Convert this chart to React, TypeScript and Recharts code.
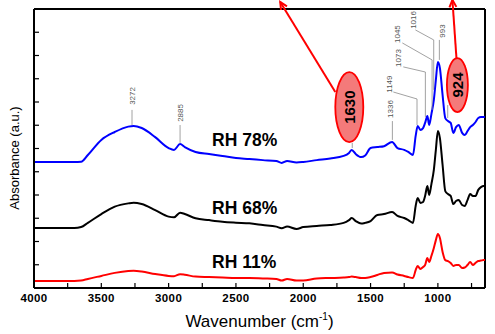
import { LineChart, Line, XAxis, YAxis, ReferenceLine, ReferenceDot } from 'recharts';

// wavenumber grid (cm-1), shared by the three spectra
const wavenumbers = [
  4000, 3700, 3650, 3600, 3500, 3400, 3300, 3260, 3200, 3100, 3000, 2960, 2915, 2880, 2800, 2700, 2600,
  2500, 2400, 2300, 2200, 2160, 2120, 2050, 2000, 1900, 1800, 1700, 1660, 1640, 1610, 1570, 1540, 1500,
  1450, 1400, 1340, 1300, 1250, 1220, 1185, 1165, 1150, 1130, 1110, 1095, 1078, 1065, 1048, 1030, 1015,
  1000, 985, 965, 945, 925, 905, 885, 865, 845, 820, 800, 780, 760, 740, 720, 700, 680, 660, 650,
];

const rh78 = [
  5.42, 5.42, 5.43, 5.72, 6.37, 6.71, 6.94, 6.97, 6.88, 6.49, 6.02, 5.94, 6.19, 6.06, 5.85, 5.76, 5.68,
  5.59, 5.55, 5.5, 5.46, 5.38, 5.46, 5.4, 5.42, 5.5, 5.57, 5.68, 5.81, 5.94, 5.76, 5.63, 5.7, 6.02,
  6.06, 6.1, 6.28, 6.02, 5.94, 5.85, 5.72, 6.54, 6.97, 6.8, 6.88, 7.1, 7.4, 7.01, 7.48, 8.09, 8.95,
  9.72, 9.46, 8.3, 7.31, 7.18, 7.1, 6.67, 6.92, 7.01, 6.67, 6.58, 6.75, 6.92, 7.01, 7.14, 7.31, 7.35, 7.35, 7.37,
];

const rh68 = [
  2.58, 2.58, 2.62, 2.8, 3.18, 3.5, 3.64, 3.67, 3.61, 3.35, 3.07, 3.04, 3.24, 3.18, 3.0, 2.92, 2.85,
  2.81, 2.78, 2.71, 2.64, 2.57, 2.64, 2.54, 2.62, 2.67, 2.71, 2.8, 2.92, 3.01, 2.88, 2.77, 2.8, 2.88,
  3.14, 3.18, 3.27, 3.1, 3.01, 2.92, 2.8, 3.53, 3.87, 3.66, 3.7, 3.96, 4.39, 4.0, 4.47, 5.08, 5.94,
  6.75, 6.45, 5.29, 4.17, 4.04, 3.96, 3.61, 3.74, 3.78, 3.57, 3.53, 3.78, 4.04, 3.96, 3.96, 4.22, 4.34, 4.39, 4.39,
];

const rh11 = [
  0.3, 0.3, 0.32, 0.39, 0.52, 0.65, 0.73, 0.74, 0.71, 0.6, 0.52, 0.51, 0.59, 0.57, 0.49, 0.47, 0.45,
  0.43, 0.43, 0.41, 0.39, 0.32, 0.39, 0.32, 0.32, 0.41, 0.43, 0.45, 0.47, 0.49, 0.47, 0.43, 0.43, 0.47,
  0.56, 0.65, 0.67, 0.58, 0.52, 0.47, 0.43, 0.77, 0.95, 0.82, 0.9, 0.99, 1.29, 1.12, 1.38, 1.72, 2.06,
  2.32, 2.15, 1.55, 1.2, 1.16, 1.08, 0.95, 0.99, 0.99, 0.86, 0.88, 0.99, 1.12, 0.99, 1.08, 1.16, 1.18, 1.2, 1.2,
];

const xTicks = [4000, 3750, 3500, 3250, 3000, 2750, 2500, 2250, 2000, 1750, 1500, 1250, 1000, 750];
const yTicks = [0, 1, 2, 3, 4, 5, 6, 7, 8, 9, 10, 11, 12];

// small peak labels and their leader lines
const peakLabels = [
  { text: '3272', x: 3271, y: 8.26 },
  { text: '2885', x: 2915, y: 7.53 },
  { text: '1336', x: 1353, y: 7.7 },
  { text: '1149', x: 1361, y: 8.77 },
  { text: '1073', x: 1294, y: 9.89 },
  { text: '1045', x: 1301, y: 10.92 },
  { text: '1016', x: 1182, y: 11.53 },
  { text: '993', x: 967, y: 11.05 },
];

const leaders: [number, number, number, number][] = [
  [3272, 7.66, 3272, 7.01],
  [2915, 7.01, 2915, 6.24],
  [1338, 7.18, 1338, 6.37],
  [1331, 8.43, 1155, 8.13],
  [1155, 8.13, 1155, 7.01],
  [1257, 9.51, 1093, 9.29],
  [1093, 9.29, 1093, 7.35],
  [1264, 10.54, 1043, 9.81],
  [1043, 9.81, 1043, 7.66],
  [1167, 11.1, 1031, 10.67],
  [1031, 10.67, 1031, 8.52],
  [989, 10.67, 989, 9.81],
  [927, 7.87, 927, 7.31],
  [1636, 6.24, 1636, 6.02],
];

const bubbles = [
  { text: '1630', x: 1658, y: 7.78, rx: 14, ry: 35 },
  { text: '924', x: 855, y: 8.73, rx: 10.5, ry: 27 },
];

const arrows: [number, number, number, number][] = [
  [1762, 8.43, 2171, 12.3],
  [862, 9.89, 892, 12.39],
];

const rhLabels = [
  { text: 'RH 78%', x: 2677, y: 6.11 },
  { text: 'RH 68%', x: 2677, y: 3.18 },
  { text: 'RH 11%', x: 2677, y: 0.85 },
];

const data = wavenumbers.map((wn, i) => ({ wn, rh78: rh78[i], rh68: rh68[i], rh11: rh11[i] }));

const XTick = (props: any) => {
  const { x, y, payload } = props;
  const major = payload.value % 500 === 0;
  return (
    <g>
      <line x1={x} y1={y} x2={x} y2={y - 5} stroke="#000" strokeWidth={1.2} />
      {major && (
        <text x={x} y={y + 14} textAnchor="middle" fontSize={11.5} fontWeight="bold" letterSpacing={0.4} fill="#000">
          {payload.value}
        </text>
      )}
    </g>
  );
};

const YTick = (props: any) => {
  const { x, y } = props;
  return <line x1={x} y1={y} x2={x + 5} y2={y} stroke="#000" strokeWidth={1.2} />;
};

const ArrowShape = (props: any) => {
  const { x1, y1, x2, y2 } = props;
  const a = Math.atan2(y2 - y1, x2 - x1);
  const len = 8;
  const s = 0.45;
  return (
    <g>
      <line x1={x1} y1={y1} x2={x2} y2={y2} stroke="#ff0000" strokeWidth={2} />
      <polyline
        points={`${x2 - len * Math.cos(a - s)},${y2 - len * Math.sin(a - s)} ${x2},${y2} ${x2 - len * Math.cos(a + s)},${y2 - len * Math.sin(a + s)}`}
        fill="none"
        stroke="#ff0000"
        strokeWidth={2}
      />
    </g>
  );
};

export default function App() {
  return (
    <div style={{ position: 'absolute', left: 0, top: 0, fontFamily: 'Arial, "Liberation Sans", sans-serif' }}>
      <LineChart width={495} height={334} data={data} margin={{ top: 9, right: 10, bottom: 0, left: 0 }}>
        <XAxis
          dataKey="wn"
          type="number"
          domain={[650, 4000]}
          reversed
          allowDataOverflow
          ticks={xTicks}
          interval={0}
          height={46}
          tickSize={0}
          tickMargin={0}
          tickLine={false}
          tick={<XTick />}
          axisLine={{ stroke: '#000', strokeWidth: 2 }}
          label={{
            content: (p: any) => {
              const vb = p.viewBox;
              return (
                <text x={vb.x + vb.width / 2} y={vb.y + 39} textAnchor="middle" fontSize={17} fill="#000">
                  Wavenumber (cm
                  <tspan fontSize={10} dy={-7}>-1</tspan>
                  <tspan dy={7}>)</tspan>
                </text>
              );
            },
          }}
        />
        <YAxis
          type="number"
          domain={[0, 12]}
          ticks={yTicks}
          interval={0}
          width={34}
          tickSize={0}
          tickMargin={0}
          tickLine={false}
          tick={<YTick />}
          axisLine={{ stroke: '#000', strokeWidth: 2 }}
          label={{
            content: (p: any) => {
              const vb = p.viewBox;
              const cx = vb.x + 14.5;
              const cy = vb.y + vb.height / 2 + 9.5;
              return (
                <text
                  x={cx}
                  y={cy}
                  textAnchor="middle"
                  dominantBaseline="central"
                  fontSize={13}
                  fill="#000"
                  transform={`rotate(-90 ${cx} ${cy})`}
                >
                  Absorbance (a.u.)
                </text>
              );
            },
          }}
        />
        <ReferenceLine y={12} stroke="#000" strokeWidth={2} />
        <ReferenceLine x={650} stroke="#000" strokeWidth={2} />

        <Line type="monotone" dataKey="rh11" stroke="#ff0000" strokeWidth={2} dot={false} isAnimationActive={false} />
        <Line type="monotone" dataKey="rh68" stroke="#000000" strokeWidth={2} dot={false} isAnimationActive={false} />
        <Line type="monotone" dataKey="rh78" stroke="#0000ff" strokeWidth={2} dot={false} isAnimationActive={false} />

        {leaders.map((s, i) => (
          <ReferenceLine
            key={`ld${i}`}
            segment={[{ x: s[0], y: s[1] }, { x: s[2], y: s[3] }]}
            stroke="#8a8a8a"
            strokeWidth={0.8}
            ifOverflow="visible"
          />
        ))}

        {peakLabels.map((p) => (
          <ReferenceDot
            key={p.text}
            x={p.x}
            y={p.y}
            ifOverflow="visible"
            shape={(sp: any) => (
              <text
                x={sp.cx}
                y={sp.cy}
                textAnchor="middle"
                dominantBaseline="central"
                fontSize={8}
                fill="#555"
                transform={`rotate(-90 ${sp.cx} ${sp.cy})`}
              >
                {p.text}
              </text>
            )}
          />
        ))}

        {arrows.map((s, i) => (
          <ReferenceLine
            key={`ar${i}`}
            segment={[{ x: s[0], y: s[1] }, { x: s[2], y: s[3] }]}
            ifOverflow="visible"
            shape={<ArrowShape />}
          />
        ))}

        {bubbles.map((b) => (
          <ReferenceDot
            key={b.text}
            x={b.x}
            y={b.y}
            ifOverflow="visible"
            shape={(sp: any) => (
              <g>
                <ellipse cx={sp.cx} cy={sp.cy} rx={b.rx} ry={b.ry} fill="#f47a7a" stroke="#ff0000" strokeWidth={1.8} />
                <text
                  x={sp.cx}
                  y={sp.cy}
                  textAnchor="middle"
                  dominantBaseline="central"
                  fontSize={15}
                  fontWeight="bold"
                  fill="#000"
                  transform={`rotate(-90 ${sp.cx} ${sp.cy})`}
                >
                  {b.text}
                </text>
              </g>
            )}
          />
        ))}

        {rhLabels.map((r) => (
          <ReferenceDot
            key={r.text}
            x={r.x}
            y={r.y}
            ifOverflow="visible"
            shape={(sp: any) => (
              <text x={sp.cx} y={sp.cy} fontSize={17.5} fontWeight="bold" fill="#000">
                {r.text}
              </text>
            )}
          />
        ))}
      </LineChart>
    </div>
  );
}
